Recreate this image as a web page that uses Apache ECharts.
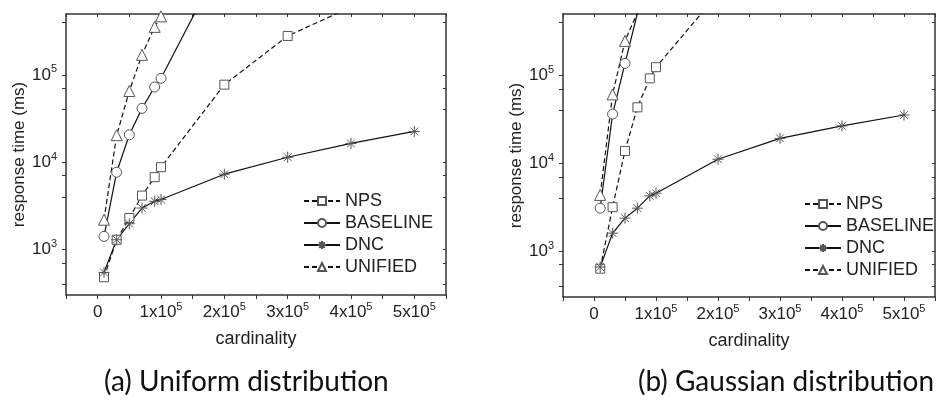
<!DOCTYPE html>
<html>
<head>
<meta charset="utf-8">
<script src="https://cdn.jsdelivr.net/npm/echarts@6/dist/echarts.min.js"></script>
<style>html,body{margin:0;padding:0;background:#fff}#main{width:938px;height:401px}</style>
</head>
<body>
<div id="main"></div>
<script>
var cardinality = [10000, 30000, 50000, 70000, 90000, 100000, 200000, 300000, 400000, 500000];

// (a) uniform distribution, response time in ms
var npsUniform = [480, 1290, 2290, 4140, 6730, 8770, 77400, 280000, 600000, 1300000];
var baselineUniform = [1410, 7670, 20600, 41400, 72800, 91600, 2300000];
var dncUniform = [545, 1290, 1970, 2980, 3560, 3730, 7280, 11400, 16400, 22500];
var unifiedUniform = [2190, 20400, 65500, 170000, 356000, 470000, 30000000];

// (b) gaussian distribution
var npsGaussian = [630, 3160, 13800, 43300, 92500, 124000, 850000];
var baselineGaussian = [3080, 36300, 137000, 510000, 1600000];
var dncGaussian = [658, 1600, 2370, 3080, 4250, 4560, 11100, 19200, 26600, 35400];
var unifiedGaussian = [4360, 60800, 247000, 520000, 2000000];

var yLabelValues = [1000, 10000, 100000];
var yTickValues = [400, 700, 1000, 4000, 7000, 10000, 40000, 70000, 100000, 400000];
var legendNames = ['NPS', 'BASELINE', 'DNC', 'UNIFIED'];
var captions = ['(a) Uniform distribution', '(b) Gaussian distribution'];

var chart = echarts.init(document.getElementById('main'));

var FONT = 'Liberation Sans';
var AXIS_COLOR = '#333';
var starPath = 'path://M5,0L5,10M0,5L10,5M1.5,1.5L8.5,8.5M1.5,8.5L8.5,1.5';

function xFormat(v) {
    if (v === 0) return '0';
    if (v % 100000 !== 0 || v < 0) return '';
    return (v / 100000) + 'x10{s|5}';
}
function yFormat(v) {
    return '10{s|' + Math.round(Math.log10(v)) + '}';
}
// superscript sits at the top of a taller line box
var supRich = { s: { fontSize: 11, lineHeight: 11, fontFamily: FONT, color: '#222', verticalAlign: 'top' } };

function xAxes(gi) {
    return [{
        type: 'value', gridIndex: gi, position: 'bottom',
        min: -50000, max: 550000, interval: 50000,
        name: 'cardinality', nameLocation: 'middle', nameGap: 35,
        nameTextStyle: { fontFamily: FONT, fontSize: 18, color: '#222' },
        axisLine: { onZero: false, lineStyle: { color: AXIS_COLOR, width: 1.5 } },
        axisTick: { inside: false, length: 4, lineStyle: { color: AXIS_COLOR } },
        axisLabel: { formatter: xFormat, fontFamily: FONT, fontSize: 17, lineHeight: 22, color: '#222', margin: 6, rich: supRich },
        splitLine: { show: false }
    }, {
        type: 'value', gridIndex: gi, position: 'top',
        min: -50000, max: 550000, interval: 50000,
        axisLine: { onZero: false, lineStyle: { color: AXIS_COLOR, width: 1.5 } },
        axisTick: { inside: true, length: 3, lineStyle: { color: AXIS_COLOR } },
        axisLabel: { show: false },
        splitLine: { show: false }
    }];
}

function yAxes(gi) {
    return [{
        type: 'log', gridIndex: gi, position: 'left', logBase: 10,
        min: 300, max: 500000,
        name: 'response time (ms)', nameLocation: 'middle', nameGap: 34,
        nameTextStyle: { fontFamily: FONT, fontSize: 17, color: '#222' },
        axisLine: { onZero: false, lineStyle: { color: AXIS_COLOR, width: 1.5 } },
        axisTick: { inside: false, length: 4, customValues: yTickValues, lineStyle: { color: AXIS_COLOR } },
        axisLabel: { customValues: yLabelValues, formatter: yFormat, fontFamily: FONT, fontSize: 17, lineHeight: 22, color: '#222', margin: 9, rich: supRich },
        splitLine: { show: false }
    }, {
        type: 'log', gridIndex: gi, position: 'right', logBase: 10,
        min: 300, max: 500000,
        axisLine: { onZero: false, lineStyle: { color: AXIS_COLOR, width: 1.5 } },
        axisTick: { inside: true, length: 3, customValues: yTickValues, lineStyle: { color: AXIS_COLOR } },
        axisLabel: { show: false },
        splitLine: { show: false }
    }];
}

function makeSeries(name, values, gi, symbol, size, dashed) {
    var star = symbol === starPath;
    return {
        name: name, type: 'line',
        xAxisIndex: gi * 2, yAxisIndex: gi * 2,
        data: values.map(function (v, i) { return [cardinality[i], v]; }),
        symbol: symbol, symbolSize: size, showAllSymbol: true,
        lineStyle: { color: '#111', width: 1.2, type: dashed ? [5, 3] : 'solid' },
        itemStyle: { color: star ? 'transparent' : '#fff', borderColor: '#555', borderWidth: 1 },
        emphasis: { disabled: true },
        clip: true
    };
}

function panelSeries(gi, nps, base, dnc, uni) {
    return [
        makeSeries('NPS', nps, gi, 'rect', 9, true),
        makeSeries('BASELINE', base, gi, 'circle', 10, false),
        makeSeries('DNC', dnc, gi, starPath, 11, false),
        makeSeries('UNIFIED', uni, gi, 'triangle', 11, true)
    ];
}

function legend(left, top) {
    return {
        data: legendNames, orient: 'vertical', left: left, top: top,
        itemWidth: 36, itemHeight: 10, itemGap: 4,
        textStyle: { fontFamily: FONT, fontSize: 18, color: '#222' }
    };
}

var captionFont = '28px Lato, "Open Sans", sans-serif';

option = {
    animation: false,
    backgroundColor: '#fff',
    grid: [
        { left: 66, top: 14, width: 380, height: 281 },
        { left: 563, top: 14, width: 386, height: 283 }
    ],
    xAxis: xAxes(0).concat(xAxes(1)),
    yAxis: yAxes(0).concat(yAxes(1)),
    legend: [legend(298, 187), legend(799, 190)],
    graphic: [
        { type: 'text', left: 104, top: 368, style: { text: captions[0], font: captionFont, fill: '#111' } },
        { type: 'text', left: 638, top: 368, style: { text: captions[1], font: captionFont, fill: '#111' } }
    ],
    series: panelSeries(0, npsUniform, baselineUniform, dncUniform, unifiedUniform)
        .concat(panelSeries(1, npsGaussian, baselineGaussian, dncGaussian, unifiedGaussian))
};

chart.setOption(option);
</script>
</body>
</html>
